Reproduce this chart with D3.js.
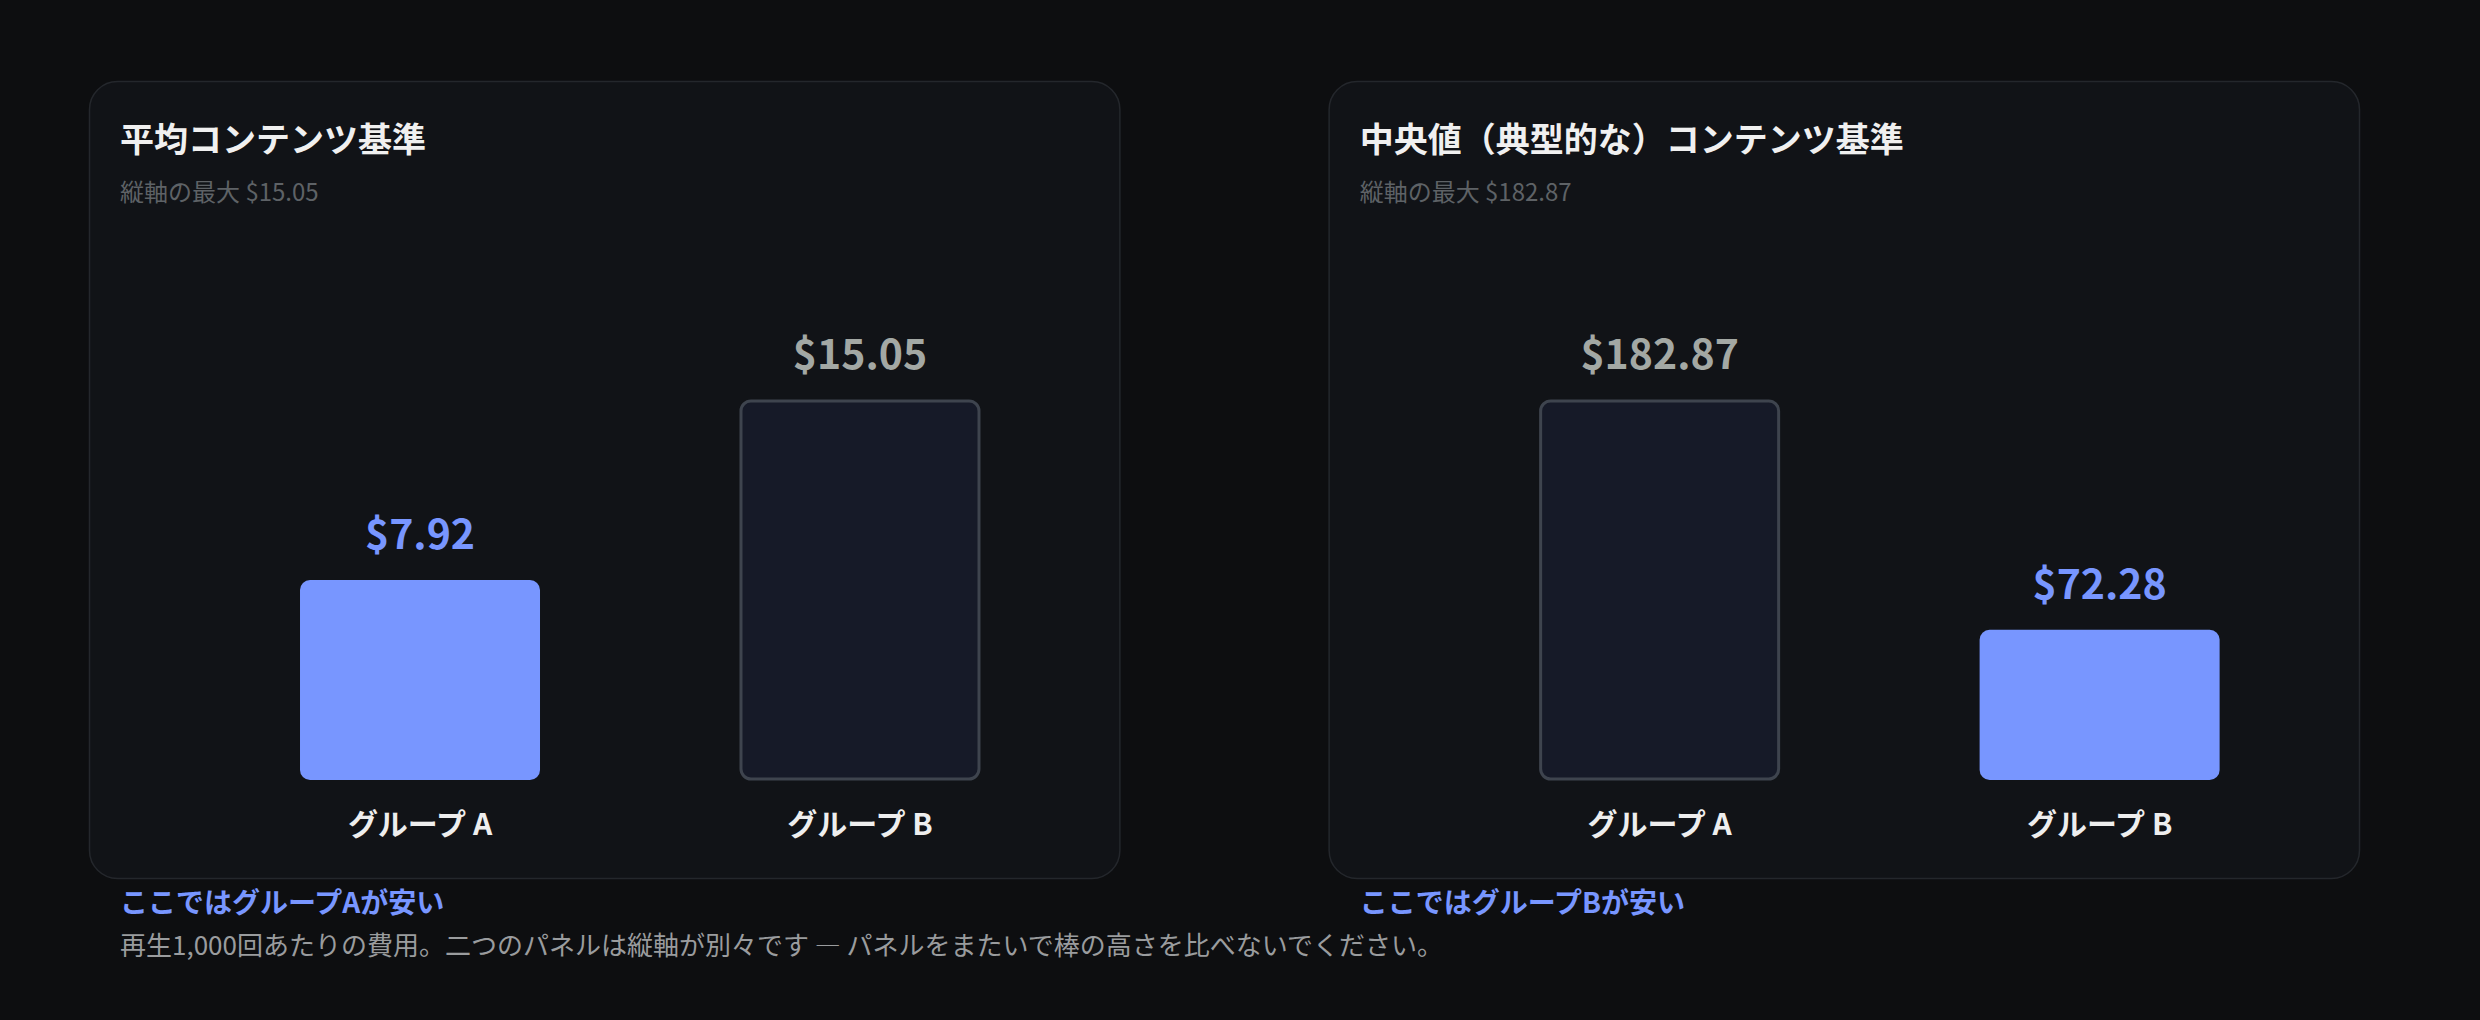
<!DOCTYPE html>
<html lang="ja">
<head>
<meta charset="utf-8">
<script src="https://cdn.jsdelivr.net/npm/d3@7"></script>
<style>
  html, body { margin: 0; padding: 0; background: #0d0e10; }
  svg { display: block; }
  text { font-family: "Noto Sans CJK JP", "Noto Sans", sans-serif; }
</style>
</head>
<body>
<svg id="chart" width="2480" height="1020"></svg>
<script>
// ---- data ----
const categories = ["グループ A", "グループ B"];
const panelTitles = ["平均コンテンツ基準", "中央値（典型的な）コンテンツ基準"];
const meanValues = [7.92, 15.05];
const medianValues = [182.87, 72.28];
const axisMax = [15.05, 182.87];
const cheaperIndex = [0, 1];
const callouts = ["ここではグループAが安い", "ここではグループBが安い"];
const footnote = "再生1,000回あたりの費用。二つのパネルは縦軸が別々です — パネルをまたいで棒の高さを比べないでください。";

const panelsData = [
  { title: panelTitles[0], values: meanValues, max: axisMax[0], cheaper: cheaperIndex[0], callout: callouts[0] },
  { title: panelTitles[1], values: medianValues, max: axisMax[1], cheaper: cheaperIndex[1], callout: callouts[1] }
];

// ---- layout ----
const svg = d3.select("#chart");
const W = 2480, H = 1020;
svg.append("rect").attr("width", W).attr("height", H).attr("fill", "#0d0e10");

const panelX = d3.scaleBand().domain([0, 1]).range([89, 2360]).paddingInner(0.168).paddingOuter(0);
const panelTop = 81, panelH = 798;
const blue = "#7896ff";
const fmt = v => "$" + d3.format(".2f")(v);

panelsData.forEach((p, i) => {
  const px = panelX(i);
  const pw = panelX.bandwidth();
  const g = svg.append("g").attr("transform", `translate(${px},0)`);

  g.append("rect")
    .attr("x", 0.5).attr("y", panelTop + 0.5)
    .attr("width", pw - 1).attr("height", panelH - 1)
    .attr("rx", 28).attr("ry", 28)
    .attr("fill", "#111317")
    .attr("stroke", "#24272c").attr("stroke-width", 1.5);

  g.append("text")
    .attr("x", 31).attr("y", 152)
    .attr("fill", "#f0f0f0").attr("font-size", 34).attr("font-weight", 700)
    .text(p.title);

  g.append("text")
    .attr("x", 31).attr("y", 201)
    .attr("fill", "#5e6266").attr("font-size", 24)
    .text("縦軸の最大 " + fmt(p.max));

  const x = d3.scaleBand().domain(categories).range([111, 991]).paddingInner(0.4545).paddingOuter(0.2273);
  const y = d3.scaleLinear().domain([0, p.max]).range([780, 400]);

  const data = categories.map((c, k) => ({ cat: c, v: p.values[k], cheap: k === p.cheaper }));

  g.selectAll("rect.bar").data(data).enter().append("rect")
    .attr("class", "bar")
    .attr("x", d => x(d.cat) + (d.cheap ? 0 : 1))
    .attr("y", d => y(d.v) + (d.cheap ? 0 : 1))
    .attr("width", d => x.bandwidth() - (d.cheap ? 0 : 2))
    .attr("height", d => y(0) - y(d.v) - (d.cheap ? 0 : 2))
    .attr("rx", 10).attr("ry", 10)
    .attr("fill", d => d.cheap ? blue : "#161a28")
    .attr("stroke", d => d.cheap ? "none" : "#3e444e")
    .attr("stroke-width", 3);

  g.selectAll("text.val").data(data).enter().append("text")
    .attr("class", "val")
    .attr("x", d => x(d.cat) + x.bandwidth() / 2)
    .attr("y", d => y(d.v) - 31)
    .attr("text-anchor", "middle")
    .attr("font-size", 41).attr("font-weight", 700)
    .attr("fill", d => d.cheap ? blue : "#a3a8a4")
    .text(d => fmt(d.v));

  g.selectAll("text.cat").data(data).enter().append("text")
    .attr("class", "cat")
    .attr("x", d => x(d.cat) + x.bandwidth() / 2)
    .attr("y", 835)
    .attr("text-anchor", "middle")
    .attr("font-size", 30).attr("font-weight", 700)
    .attr("fill", "#eeeeee")
    .text(d => d.cat);

  g.append("text")
    .attr("x", 31).attr("y", 913)
    .attr("fill", blue).attr("font-size", 28).attr("font-weight", 700)
    .text(p.callout);
});

svg.append("text")
  .attr("x", 120).attr("y", 955)
  .attr("fill", "#9a9c9e").attr("font-size", 26)
  .text(footnote);
</script>
</body>
</html>
